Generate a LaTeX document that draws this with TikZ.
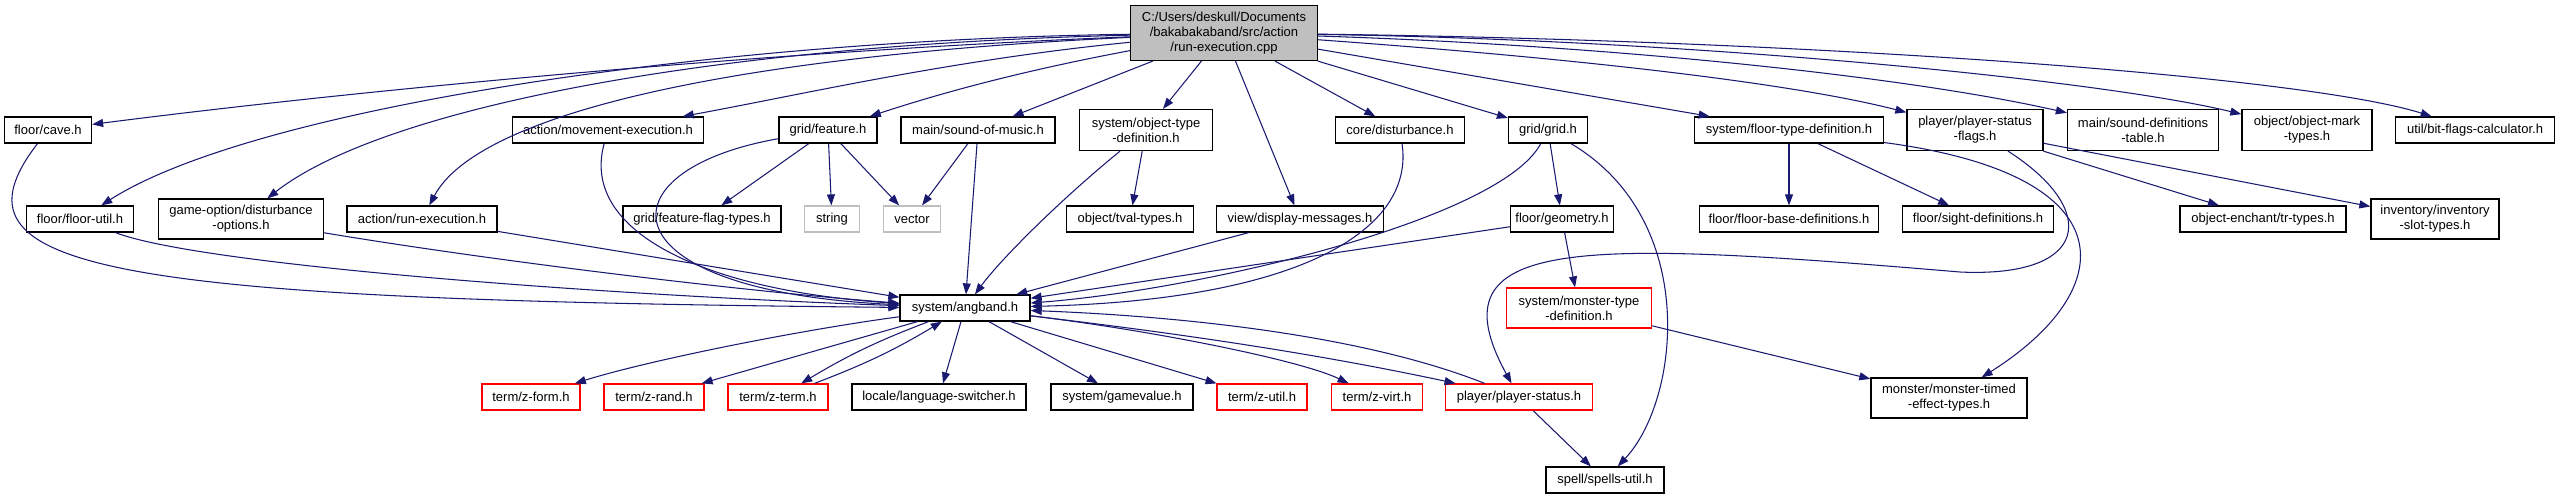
\documentclass[tikz,border=0pt]{standalone}
\usepackage{fontspec}
\setmainfont{Liberation Sans}
\usetikzlibrary{arrows.meta}

\definecolor{mblue}{RGB}{25,25,112}
\definecolor{grau}{RGB}{191,191,191}

\begin{document}
\begin{tikzpicture}[x=0.01cm,y=-0.01cm,
	hdr/.style={draw=black,fill=white,line width=0.35pt,inner sep=0pt,minimum height=0.26cm,align=center,font=\fontsize{3.7}{4.3}\selectfont},
	hdrred/.style={hdr,draw=red},
	hdrsys/.style={hdr,draw=grau},
	hdrroot/.style={hdr,fill=grau},
	incl/.style={draw=mblue,line width=0.3pt,-{Triangle[length=0.11cm,width=0.08cm]}}]

	\useasboundingbox (0,0) rectangle (2560,499);

	% Wurzel
	\node[hdrroot,minimum width=1.87cm,minimum height=0.55cm] (root) at (1224,33) {C:/Users/deskull/Documents\\/bakabakaband/src/action\\/run-execution.cpp};

	% Ebene 1
	\node[hdr,minimum width=0.87cm] (cave) at (48,130) {floor/cave.h};
	\node[hdr,minimum width=1.91cm] (mvexec) at (608,130) {action/movement-execution.h};
	\node[hdr,minimum width=0.98cm] (feature) at (828,130) {grid/feature.h};
	\node[hdr,minimum width=1.54cm] (soundmusic) at (978,130) {main/sound-of-music.h};
	\node[hdr,minimum width=1.33cm,minimum height=0.41cm] (objtype) at (1146,130) {system/object-type\\-definition.h};
	\node[hdr,minimum width=1.29cm] (disturb) at (1400,130) {core/disturbance.h};
	\node[hdr,minimum width=0.79cm] (grid) at (1548,130) {grid/grid.h};
	\node[hdr,minimum width=1.89cm] (floortype) at (1789,130) {system/floor-type-definition.h};
	\node[hdr,minimum width=1.36cm,minimum height=0.41cm] (statusflags) at (1975,130) {player/player-status\\-flags.h};
	\node[hdr,minimum width=1.51cm,minimum height=0.41cm] (sounddef) at (2143,130) {main/sound-definitions\\-table.h};
	\node[hdr,minimum width=1.30cm,minimum height=0.41cm] (marktypes) at (2307,130) {object/object-mark\\-types.h};
	\node[hdr,minimum width=1.59cm] (bitflags) at (2475,130) {util/bit-flags-calculator.h};

	% Ebene 2
	\node[hdr,minimum width=1.07cm] (floorutil) at (80,219) {floor/floor-util.h};
	\node[hdr,minimum width=1.65cm,minimum height=0.40cm] (distopt) at (241,219) {game-option/disturbance\\-options.h};
	\node[hdr,minimum width=1.50cm] (runexec) at (422,219) {action/run-execution.h};
	\node[hdr,minimum width=1.58cm] (featflag) at (702,219) {grid/feature-flag-types.h};
	\node[hdrsys,minimum width=0.55cm] (string) at (832,219) {string};
	\node[hdrsys,minimum width=0.57cm] (vector) at (912,219) {vector};
	\node[hdr,minimum width=1.27cm] (tval) at (1130,219) {object/tval-types.h};
	\node[hdr,minimum width=1.67cm] (display) at (1300,219) {view/display-messages.h};
	\node[hdr,minimum width=1.03cm] (geometry) at (1562,219) {floor/geometry.h};
	\node[hdr,minimum width=1.79cm] (floorbase) at (1789,219) {floor/floor-base-definitions.h};
	\node[hdr,minimum width=1.51cm] (sight) at (1978,219) {floor/sight-definitions.h};
	\node[hdr,minimum width=1.66cm] (trtypes) at (2263,219) {object-enchant/tr-types.h};
	\node[hdr,minimum width=1.28cm,minimum height=0.40cm] (invslot) at (2435,219) {inventory/inventory\\-slot-types.h};

	% Ebene 3
	\node[hdr,minimum width=1.30cm] (angband) at (965,308) {system/angband.h};
	\node[hdrred,minimum width=1.45cm,minimum height=0.40cm] (montype) at (1579,308) {system/monster-type\\-definition.h};

	% Ebene 4
	\node[hdrred,minimum width=0.98cm] (zform) at (531,397) {term/z-form.h};
	\node[hdrred,minimum width=1.00cm] (zrand) at (654,397) {term/z-rand.h};
	\node[hdrred,minimum width=1.00cm] (zterm) at (778,397) {term/z-term.h};
	\node[hdr,minimum width=1.74cm] (lang) at (939,397) {locale/language-switcher.h};
	\node[hdr,minimum width=1.42cm] (gamevalue) at (1122,397) {system/gamevalue.h};
	\node[hdrred,minimum width=0.90cm] (zutil) at (1262,397) {term/z-util.h};
	\node[hdrred,minimum width=0.91cm] (zvirt) at (1377,397) {term/z-virt.h};
	\node[hdrred,minimum width=1.47cm] (pstatus) at (1519,397) {player/player-status.h};
	\node[hdr,minimum width=1.56cm,minimum height=0.40cm] (mtimed) at (1949,398) {monster/monster-timed\\-effect-types.h};

	% Ebene 5
	\node[hdr,minimum width=1.18cm] (spells) at (1605,480) {spell/spells-util.h};

	% Kanten der Wurzel
	\draw[incl] (root) .. controls (800,50) and (400,85) .. (cave);
	\draw[incl] (root) .. controls (700,40) and (250,110) .. (floorutil);
	\draw[incl] (root) .. controls (700,45) and (380,110) .. (distopt);
	\draw[incl] (root) .. controls (750,55) and (480,110) .. (runexec);
	\draw[incl] (root) .. controls (950,60) and (800,95) .. (mvexec);
	\draw[incl] (root) .. controls (1000,75) and (920,100) .. (feature);
	\draw[incl] (root) -- (soundmusic);
	\draw[incl] (root) -- (objtype);
	\draw[incl] (root) -- (display);
	\draw[incl] (root) -- (disturb);
	\draw[incl] (root) -- (grid);
	\draw[incl] (root) -- (floortype);
	\draw[incl] (root) .. controls (1600,60) and (1800,85) .. (statusflags);
	\draw[incl] (root) .. controls (1600,45) and (1900,75) .. (sounddef);
	\draw[incl] (root) .. controls (1700,40) and (2100,80) .. (marktypes);
	\draw[incl] (root) .. controls (1800,40) and (2300,75) .. (bitflags);

	% Kanten nach angband
	\draw[incl] (cave) .. controls (-60,270) and (100,300) .. (angband);
	\draw[incl] (floorutil) .. controls (200,265) and (600,295) .. (angband);
	\draw[incl] (distopt) .. controls (500,262) and (750,292) .. (angband);
	\draw[incl] (runexec) -- (angband);
	\draw[incl] (mvexec) .. controls (580,230) and (700,290) .. (angband);
	\draw[incl] (feature) .. controls (600,170) and (600,290) .. (angband);
	\draw[incl] (soundmusic) -- (angband);
	\draw[incl] (objtype) .. controls (1060,200) and (1000,260) .. (angband);
	\draw[incl] (display) -- (angband);
	\draw[incl] (disturb) .. controls (1415,230) and (1300,300) .. (angband);
	\draw[incl] (grid) .. controls (1500,220) and (1200,290) .. (angband);
	\draw[incl] (geometry) -- (angband);

	% sonstige Kanten
	\draw[incl] (feature) -- (featflag);
	\draw[incl] (feature) -- (string);
	\draw[incl] (feature) -- (vector);
	\draw[incl] (soundmusic) -- (vector);
	\draw[incl] (objtype) -- (tval);
	\draw[incl] (grid) -- (geometry);
	\draw[incl] (grid) .. controls (1700,220) and (1680,400) .. (spells);
	\draw[incl] (geometry) -- (montype);
	\draw[incl] (floortype) -- (floorbase);
	\draw[incl] (floortype) -- (sight);
	\draw[incl] (floortype) .. controls (2130,175) and (2120,290) .. (mtimed);
	\draw[incl] (statusflags) .. controls (2100,210) and (2090,278) .. (1960,272) .. controls (1580,240) and (1430,235) .. (pstatus);
	\draw[incl] (statusflags) -- (trtypes);
	\draw[incl] (statusflags) -- (invslot);
	\draw[incl] (montype) -- (mtimed);
	\draw[incl] (pstatus) -- (spells);

	% Kanten von angband
	\draw[incl] (angband) .. controls (800,330) and (650,360) .. (zform);
	\draw[incl] (angband) -- (zrand);
	\draw[incl] (angband) to[bend right=5] (zterm);
	\draw[incl] (zterm) to[bend right=5] (angband);
	\draw[incl] (angband) -- (lang);
	\draw[incl] (angband) -- (gamevalue);
	\draw[incl] (angband) -- (zutil);
	\draw[incl] (angband) .. controls (1150,330) and (1300,360) .. (zvirt);
	\draw[incl] (angband) .. controls (1150,330) and (1300,350) .. (pstatus);
	\draw[incl] (pstatus) .. controls (1350,330) and (1150,315) .. (angband);

\end{tikzpicture}
\end{document}
